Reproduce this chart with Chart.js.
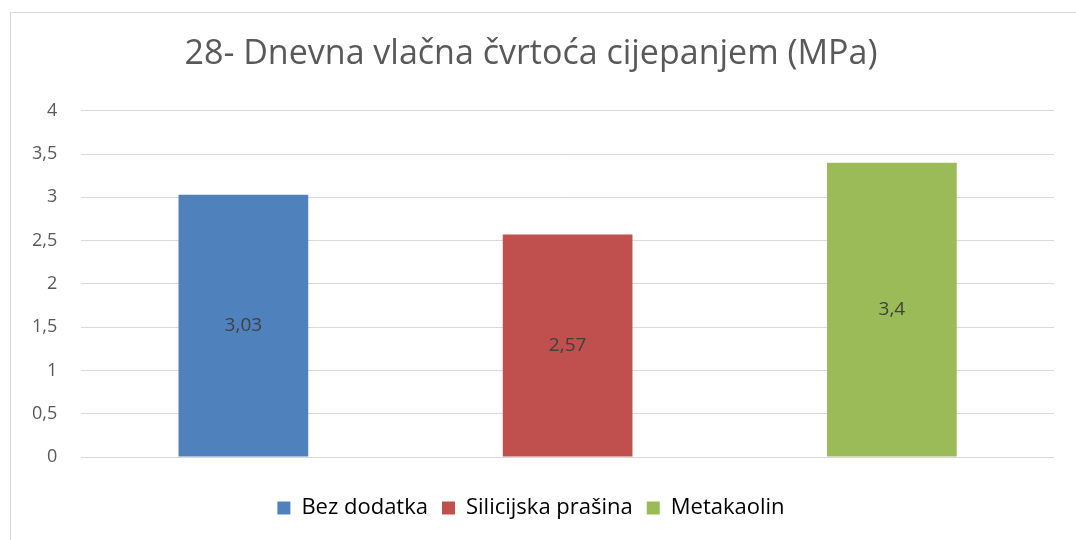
<!DOCTYPE html>
<html>
<head>
<meta charset="utf-8">
<script src="https://cdn.jsdelivr.net/npm/chart.js@4.4.1/dist/chart.umd.min.js"></script>
<style>
  html, body { margin: 0; padding: 0; background: #fff; }
  #wrap { position: relative; width: 1076px; height: 540px; overflow: hidden; }
  #frame { position: absolute; left: 10px; top: 12px; width: 1100px; height: 600px; border: 1px solid #d9d9d9; }
  #c { position: absolute; left: 0; top: 0; }
</style>
</head>
<body>
<div id="wrap">
  <div id="frame"></div>
  <canvas id="c" width="1076" height="540"></canvas>
</div>
<script>
  var titleText = '28- Dnevna vlačna čvrtoća cijepanjem (MPa)';
  var categories = ['Bez dodatka', 'Silicijska prašina', 'Metakaolin'];
  var values = [3.03, 2.57, 3.4];
  var barColors = ['#4f81bd', '#c0504d', '#9bbb59'];
  var yTicks = [0, 0.5, 1, 1.5, 2, 2.5, 3, 3.5, 4];

  var FONT = '"Open Sans", sans-serif';

  function comma(v) {
    return String(v).replace('.', ',');
  }

  // value labels drawn in the middle of each bar
  var centerLabels = {
    id: 'centerLabels',
    afterDatasetsDraw: function (chart) {
      var ctx = chart.ctx;
      var meta = chart.getDatasetMeta(0);
      ctx.save();
      ctx.font = '19px ' + FONT;
      ctx.fillStyle = '#404040';
      ctx.textAlign = 'center';
      ctx.textBaseline = 'middle';
      meta.data.forEach(function (bar, i) {
        var mid = (bar.y + bar.base) / 2;
        ctx.fillText(comma(values[i]), bar.x, mid);
      });
      ctx.restore();
    }
  };

  var ctx = document.getElementById('c').getContext('2d');
  new Chart(ctx, {
    type: 'bar',
    data: {
      labels: categories,
      datasets: [{
        label: 'MPa',
        data: values,
        backgroundColor: barColors,
        borderWidth: 0,
        categoryPercentage: 1,
        barPercentage: 0.4
      }]
    },
    plugins: [centerLabels],
    options: {
      responsive: false,
      animation: false,
      layout: { padding: { left: 8, right: 22, top: 20, bottom: 11 } },
      plugins: {
        title: {
          display: true,
          text: titleText,
          color: '#595959',
          font: { family: FONT, size: 34, weight: 'normal', lineHeight: 1.2 },
          padding: { top: 14, bottom: 36 }
        },
        legend: {
          position: 'bottom',
          labels: {
            color: '#595959',
            font: { family: FONT, size: 22 },
            boxWidth: 13,
            boxHeight: 13,
            padding: 14,
            generateLabels: function () {
              return categories.map(function (name, i) {
                return {
                  text: name,
                  fillStyle: barColors[i],
                  strokeStyle: barColors[i],
                  lineWidth: 0,
                  index: i
                };
              });
            }
          },
          onClick: function () {}
        },
        tooltip: { enabled: false }
      },
      scales: {
        x: {
          grid: { display: false },
          border: { display: false },
          ticks: { display: false },
          afterFit: function (axis) { axis.height = 26; }
        },
        y: {
          min: 0,
          max: 4,
          afterBuildTicks: function (axis) {
            axis.ticks = yTicks.map(function (v) { return { value: v }; });
          },
          grid: { color: '#d9d9d9', lineWidth: 1, drawTicks: false },
          border: { display: false },
          ticks: {
            color: '#595959',
            font: { family: FONT, size: 18 },
            padding: 24,
            callback: function (v) { return comma(v); }
          }
        }
      }
    }
  });
</script>
</body>
</html>
